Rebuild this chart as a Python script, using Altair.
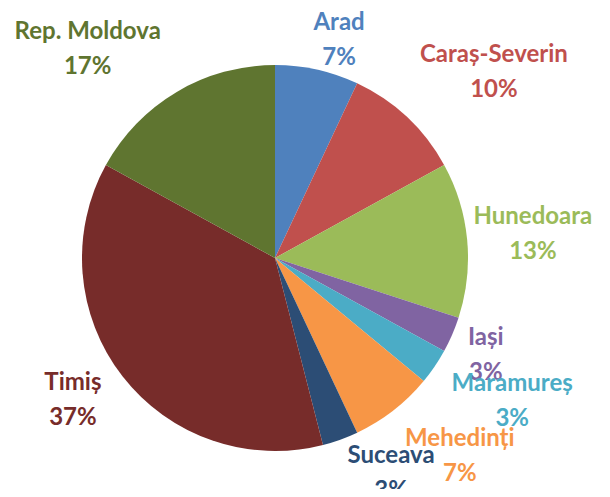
import math
import altair as alt
import pandas as pd

regions = ["Arad", "Caraș-Severin", "Hunedoara", "Iași", "Maramureș",
           "Mehedinți", "Suceava", "Timiș", "Rep. Moldova"]
shares = [7, 10, 13, 3, 3, 7, 3, 37, 17]
colors = ["#4F81BD", "#C0504D", "#9BBB59", "#8064A2", "#4BACC6",
          "#F79646", "#2C4D75", "#772C2A", "#5F7530"]

# label layout (angular nudge from slice mid-angle, in degrees; distance from centre, px)
label_nudge_deg = [3.8, 6.5, 0.1, 1.3, -3.1, -5.2, -8.6, 2.7, -11.2]
label_radius = [227, 287, 259, 232, 277, 271, 244, 247, 281]

total = sum(shares)
rows = []
cum = 0
for i, (r, s) in enumerate(zip(regions, shares)):
    mid = (cum + s / 2) / total * 360
    cum += s
    rows.append({
        "region": r,
        "share": s,
        "order": i,
        "label": f"{r}\n{round(s / total * 100)}%",
        "lt": math.radians(mid + label_nudge_deg[i]),
        "lr": label_radius[i],
    })
df = pd.DataFrame(rows)

color_scale = alt.Scale(domain=regions, range=colors)
cx, cy = 267, 250

pie = alt.Chart(df).mark_arc(outerRadius=193).encode(
    theta=alt.Theta("share:Q"),
    order=alt.Order("order:Q", sort="ascending"),
    color=alt.Color("region:N", scale=color_scale, legend=None),
    x=alt.value(cx),
    y=alt.value(cy),
)

labels = alt.Chart(df).mark_text(
    font="Lato", fontSize=24, fontWeight="bold", lineBreak="\n",
    lineHeight=35, align="center", baseline="middle", dy=-17
).encode(
    theta=alt.Theta("lt:Q", scale=None),
    radius=alt.Radius("lr:Q", scale=None),
    text="label:N",
    color=alt.Color("region:N", scale=color_scale, legend=None),
    x=alt.value(cx),
    y=alt.value(cy),
)

chart = alt.layer(pie, labels).properties(
    width=594, height=481, padding=0,
    autosize=alt.AutoSizeParams(type="none"),
).configure_view(stroke=None)

chart.save("out.html", embed_options={"renderer": "svg", "actions": False})
